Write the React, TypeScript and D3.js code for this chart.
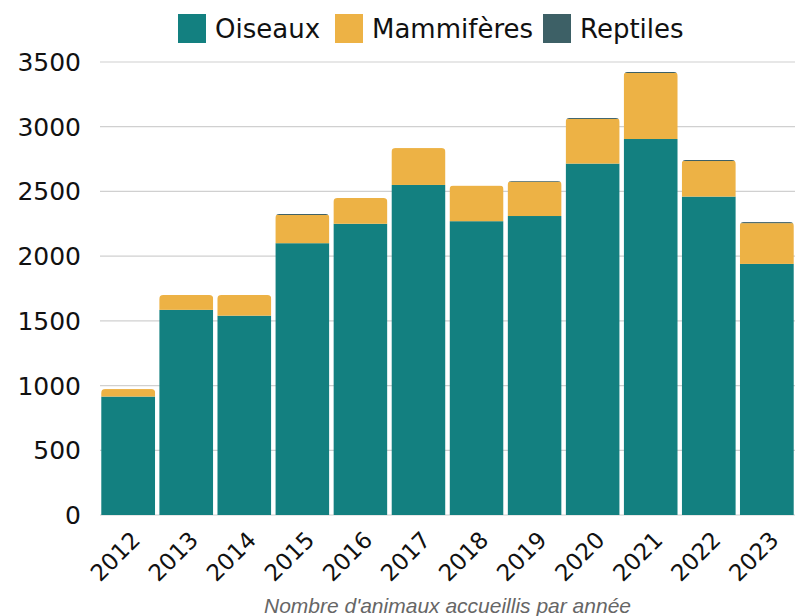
import React, {useRef, useEffect} from 'react'
import * as d3 from 'd3';

const years = ["2012", "2013", "2014", "2015", "2016", "2017", "2018", "2019", "2020", "2021", "2022", "2023"];
const oiseaux = [915, 1585, 1540, 2100, 2250, 2550, 2270, 2310, 2715, 2905, 2460, 1940];
const mammiferes = [58, 115, 160, 218, 200, 285, 275, 265, 345, 510, 275, 315];
const reptiles = [0, 0, 0, 8, 0, 0, 0, 6, 8, 8, 8, 8];
const seriesNames = ["Oiseaux", "Mammifères", "Reptiles"];
const seriesColors = ["#138080", "#EDB245", "#3D6066"];
const yTicks = [0, 500, 1000, 1500, 2000, 2500, 3000, 3500];

const layout = {"width": 801, "height": 616, "marginLeft": 100, "marginRight": 6, "marginTop": 62, "marginBottom": 101};

export default function App() {
	const ref = useRef(null);

	useEffect(() => {
		document.body.style.margin = "0";
		const svg = d3.select(ref.current);
		svg.selectAll("*").remove();

		const rows = years.map((y, i) => ({year: y, Oiseaux: oiseaux[i], "Mammifères": mammiferes[i], Reptiles: reptiles[i]}));
		const stacked = d3.stack().keys(seriesNames)(rows);

		const x = d3.scaleBand()
			.domain(years)
			.range([layout.marginLeft, layout.width - layout.marginRight])
			.paddingInner(0.07)
			.paddingOuter(0.02);

		const y = d3.scaleLinear()
			.domain([0, 3500])
			.range([layout.height - layout.marginBottom, layout.marginTop]);

		const font = "'DejaVu Sans', sans-serif";

		// grid lines
		svg.append("g")
			.selectAll("line")
			.data(yTicks)
			.join("line")
			.attr("x1", layout.marginLeft)
			.attr("x2", layout.width - layout.marginRight)
			.attr("y1", d => y(d))
			.attr("y2", d => y(d))
			.attr("stroke", "#d0d0d0")
			.attr("stroke-width", 1.2);

		// y labels
		svg.append("g")
			.selectAll("text")
			.data(yTicks)
			.join("text")
			.attr("x", 81)
			.attr("y", d => y(d))
			.attr("dy", "0.36em")
			.attr("text-anchor", "end")
			.attr("font-family", font)
			.attr("font-size", 25)
			.attr("fill", "#111")
			.text(d => d);

		// clip each stack with rounded top
		const defs = svg.append("defs");
		const totals = rows.map((r, i) => oiseaux[i] + mammiferes[i] + reptiles[i]);
		years.forEach((yr, i) => {
			defs.append("clipPath")
				.attr("id", "clip" + yr)
				.append("rect")
				.attr("x", x(yr))
				.attr("width", x.bandwidth())
				.attr("y", y(totals[i]))
				.attr("height", y(0) - y(totals[i]) + 10)
				.attr("rx", 4);
		});

		const bars = svg.append("g");
		stacked.forEach((s, si) => {
			bars.selectAll(".s" + si)
				.data(s)
				.join("rect")
				.attr("class", "s" + si)
				.attr("clip-path", d => `url(#clip${d.data.year})`)
				.attr("x", d => x(d.data.year))
				.attr("width", x.bandwidth())
				.attr("y", d => y(d[1]))
				.attr("height", d => Math.max(0, y(d[0]) - y(d[1])))
				.attr("fill", seriesColors[si]);
		});

		// x labels
		svg.append("g")
			.selectAll("text")
			.data(years)
			.join("text")
			.attr("transform", d => `translate(${x(d) + x.bandwidth() / 2 + 2},${530}) rotate(-45)`)
			.attr("text-anchor", "end")
			.attr("dy", "0.7em")
			.attr("font-family", font)
			.attr("font-size", 23)
			.attr("fill", "#111")
			.text(d => d);

		// axis title
		svg.append("text")
			.attr("x", (layout.marginLeft + layout.width - layout.marginRight) / 2)
			.attr("y", 613)
			.attr("text-anchor", "middle")
			.attr("font-family", "'Liberation Sans', Arial, sans-serif")
			.attr("font-style", "italic")
			.attr("font-size", 21)
			.attr("fill", "#666")
			.text("Nombre d'animaux accueillis par année");

		// legend
		const legendX = [178, 335, 543];
		const legend = svg.append("g")
			.selectAll("g")
			.data(seriesNames)
			.join("g")
			.attr("transform", (d, i) => `translate(${legendX[i]},14)`);
		legend.append("rect")
			.attr("width", 28)
			.attr("height", 29)
			.attr("fill", (d, i) => seriesColors[i]);
		legend.append("text")
			.attr("x", 37)
			.attr("y", 14.5)
			.attr("dy", "0.36em")
			.attr("font-family", font)
			.attr("font-size", 26)
			.attr("fill", "#111")
			.text(d => d);
	}, []);

	return (
		<svg width={layout.width} height={layout.height} ref={ref} style={{display: "block"}} />
	)
}
